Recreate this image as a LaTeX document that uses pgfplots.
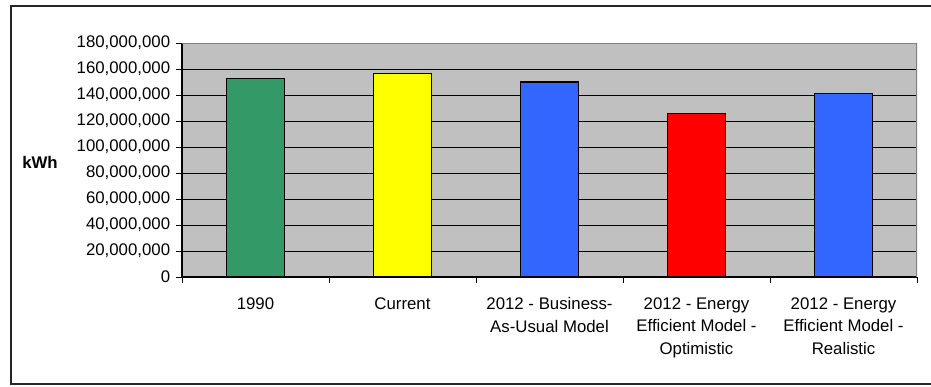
\documentclass[border=0pt]{standalone}
\usepackage{fontspec}
\setmainfont{Liberation Sans}
\usepackage{pgfplots}
\pgfplotsset{compat=1.18}
\definecolor{plotbg}{HTML}{C0C0C0}
\definecolor{cgreen}{HTML}{339966}
\definecolor{cyellow}{HTML}{FFFF00}
\definecolor{cblue}{HTML}{3366FF}
\definecolor{cred}{HTML}{FF0000}
\begin{document}
\fontsize{12.6}{16.9}\selectfont
\begin{tikzpicture}[x=0.75pt,y=0.75pt]
\useasboundingbox (0,0) rectangle (931,386);
\draw[line width=1.3pt, black!85] (11,2) rectangle (936,380);
\begin{axis}[
  at={(136.5pt,81.75pt)}, anchor=south west,
  scale only axis, width=551.25pt, height=175.5pt,
  ybar, bar width=43.5pt,
  xmin=-0.5, xmax=4.5, ymin=0, ymax=180000000,
  axis x line=bottom, axis y line=left,
  axis line style={-, black, line width=0.8pt},
  axis background/.style={fill=plotbg},
  ytick={0,20000000,40000000,60000000,80000000,100000000,120000000,140000000,160000000,180000000},
  scaled y ticks=false,
  yticklabel style={/pgf/number format/.cd, fixed, 1000 sep={,}, assume math mode=true},
  ymajorgrids, major grid style={black, line width=0.7pt},
  tick align=outside, major tick length=4.5pt,
  tick style={black, line width=0.7pt},
  xtick={-0.5,0.5,1.5,2.5,3.5,4.5}, xticklabels={},
  extra x ticks={0,1,2,3,4},
  extra x tick labels={1990, Current, {2012 - Business-\\As-Usual Model}, {2012 - Energy\\Efficient Model -\\Optimistic}, {2012 - Energy\\Efficient Model -\\Realistic}},
  extra x tick style={major tick length=0pt, xticklabel style={yshift=-11pt}},
  xticklabel style={align=center},
  ylabel={\bfseries kWh},
  every axis y label/.style={at={(rel axis cs:0,0.5)}, anchor=center, xshift=-106.5pt, yshift=-1.5pt},
]
\addplot[fill=cgreen, draw=black, line width=0.8pt, bar shift=0pt] coordinates {(0,152800000)};
\addplot[fill=cyellow, draw=black, line width=0.8pt, bar shift=0pt] coordinates {(1,156400000)};
\addplot[fill=cblue, draw=black, line width=0.8pt, bar shift=0pt] coordinates {(2,150000000)};
\addplot[fill=cred, draw=black, line width=0.8pt, bar shift=0pt] coordinates {(3,125600000)};
\addplot[fill=cblue, draw=black, line width=0.8pt, bar shift=0pt] coordinates {(4,141500000)};
\draw[gray, line width=1pt] (rel axis cs:0,1) -- (rel axis cs:1,1) -- (rel axis cs:1,0);
\end{axis}
\end{tikzpicture}
\end{document}
